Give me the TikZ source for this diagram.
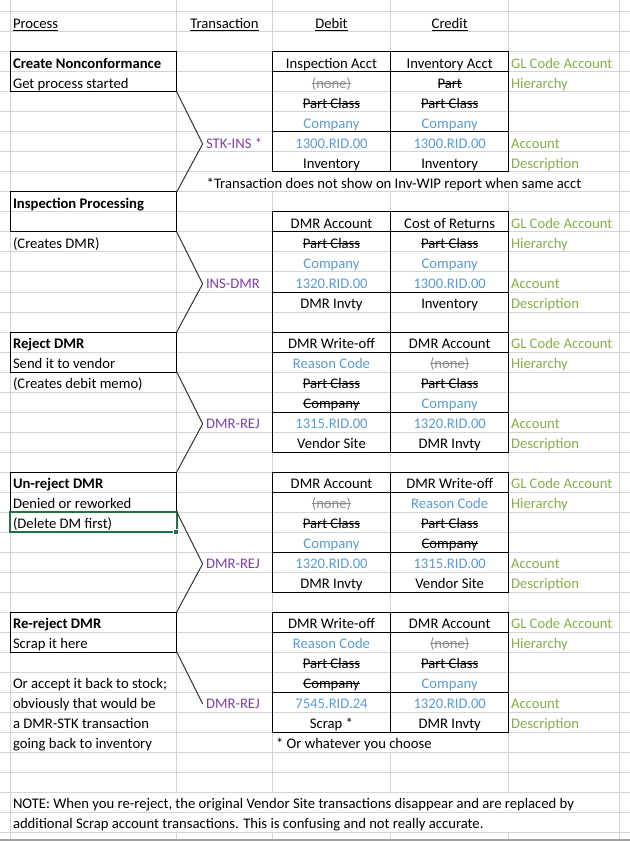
\documentclass[tikz,border=0pt]{standalone}
\usepackage{fontspec}
\setmainfont{Carlito}
\definecolor{gridc}{HTML}{D4D4D4}
\definecolor{glc}{HTML}{86B04A}
\definecolor{blc}{HTML}{5B9BD5}
\definecolor{puc}{HTML}{7F3FA8}
\definecolor{nonec}{HTML}{8C8C8C}
\definecolor{selc}{HTML}{217346}
\definecolor{chev}{HTML}{333333}
\definecolor{botc}{HTML}{A0A0A0}
\newlength\skl
\newcommand\strk[1]{\settowidth\skl{#1}\rlap{\rule[3.5pt]{\skl}{0.7pt}}#1}
\newcommand\uln[1]{\settowidth\skl{#1}\rlap{\rule[-2.2pt]{\skl}{0.7pt}}#1}
\newcommand\bluet[1]{\textcolor{blc}{#1}}
\newcommand\nonet{\textcolor{nonec}{\strk{(none)}}}
\newcommand\trw[4]{\node[cc] (#1d) at (331.5,#2) {#3}; \node[cc] (#1c) at (449.7,#2) {#4};}
\newcommand\glb[3]{\node[gl] (#1) at (511,#2) {#3};}
\newcommand\tbl[1]{\draw[blk] (272.3,#1) rectangle (508.7,#1+120) (390.7,#1) -- (390.7,#1+120) (272.3,#1+20) -- (508.7,#1+20) (272.3,#1+80) -- (508.7,#1+80);}
\begin{document}
\begin{tikzpicture}[x=0.75pt,y=-0.75pt,
  txt/.style={inner sep=0pt, outer sep=0pt, font=\fontsize{11pt}{13pt}\selectfont},
  lt/.style={txt, anchor=base west},
  cc/.style={txt, anchor=base},
  gl/.style={lt, text=glc},
  trn/.style={lt, text=puc, text height=7pt, text depth=0pt},
  gridl/.style={draw=gridc, line width=0.75pt},
  blk/.style={draw=black, line width=0.75pt},
  procbox/.style={blk, anchor=north west, inner sep=0pt, outer sep=0pt, minimum width=125.025pt, minimum height=30pt},
  chevron/.style={draw=chev, line width=0.75pt, line join=miter}]
\fill[white] (0,0) rectangle (630,841);
\useasboundingbox (0,0) rectangle (630,841);
% grid
\foreach \k in {0,...,41} \draw[gridl] (0,{12+20*\k}) -- (630,{12+20*\k});
\draw[gridl] (10,0) -- (10,841);
\draw[gridl] (619,0) -- (619,841);
\draw[gridl] (176.7,0) -- (176.7,792) (176.7,832) -- (176.7,841);
\draw[gridl] (272.3,0) -- (272.3,172) (272.3,192) -- (272.3,792) (272.3,832) -- (272.3,841);
\draw[gridl] (390.7,0) -- (390.7,172) (390.7,192) -- (390.7,732) (390.7,752) -- (390.7,792) (390.7,832) -- (390.7,841);
\draw[gridl] (508.7,0) -- (508.7,172) (508.7,192) -- (508.7,792) (508.7,832) -- (508.7,841);
\draw[draw=botc, line width=1.5pt] (0,840) -- (630,840);
% process boxes
\node[procbox] (p1) at (10,52) {};
\node[procbox] (p2) at (10,192) {};
\node[procbox] (p3) at (10,332) {};
\node[procbox] (p4) at (10,472) {};
\node[procbox] (p5) at (10,612) {};
\draw[selc, line width=1.5pt] (10,512) rectangle (176.7,532);
\draw[white, fill=selc, line width=0.5pt] (173.7,529.2) rectangle (178.7,534.2);
% tables
\tbl{52}
\tbl{212}
\tbl{332}
\tbl{472}
\tbl{612}
\begin{scope}[yshift=-0.75pt]
% headers
\node[lt] (hproc) at (13,27.5) {\uln{Process}};
\node[cc] (htran) at (224.5,27.5) {\uln{Transaction}};
\node[cc] (hdeb) at (331.5,27.5) {\uln{Debit}};
\node[cc] (hcre) at (449.7,27.5) {\uln{Credit}};
% process texts
\node[lt] (q1a) at (13,67.5) {\textbf{Create Nonconformance}};
\node[lt] (q1b) at (13,87.5) {Get process started};
\node[lt] (q2a) at (13,207.5) {\textbf{Inspection Processing}};
\node[lt] (q2b) at (13,247.5) {(Creates DMR)};
\node[lt] (q3a) at (13,347.5) {\textbf{Reject DMR}};
\node[lt] (q3b) at (13,367.5) {Send it to vendor};
\node[lt] (q3c) at (13,387.5) {(Creates debit memo)};
\node[lt] (q4a) at (13,487.5) {\textbf{Un-reject DMR}};
\node[lt] (q4b) at (13,507.5) {Denied or reworked};
\node[lt] (q4c) at (13,527.5) {(Delete DM first)};
\node[lt] (q5a) at (13,627.5) {\textbf{Re-reject DMR}};
\node[lt] (q5b) at (13,647.5) {Scrap it here};
\node[lt] (q5c) at (13,687.5) {Or accept it back to stock;};
\node[lt] (q5d) at (13,707.5) {obviously that would be};
\node[lt] (q5e) at (13,727.5) {a DMR-STK transaction};
\node[lt] (q5f) at (13,747.5) {going back to inventory};
% transactions
\node[trn] (x1) at (206,147.5) {STK-INS *};
\node[trn] (x2) at (206,287.5) {INS-DMR};
\node[trn] (x3) at (206,427.5) {DMR-REJ};
\node[trn] (x4) at (206,567.5) {DMR-REJ};
\node[trn] (x5) at (206,707.5) {DMR-REJ};
% table 1
\trw{a3}{67.5}{Inspection Acct}{Inventory Acct}
\trw{a4}{87.5}{\nonet}{\strk{Part}}
\trw{a5}{107.5}{\strk{Part Class}}{\strk{Part Class}}
\trw{a6}{127.5}{\bluet{Company}}{\bluet{Company}}
\trw{a7}{147.5}{\bluet{1300.RID.00}}{\bluet{1300.RID.00}}
\trw{a8}{167.5}{Inventory}{Inventory}
\glb{g1a}{67.5}{GL Code Account}
\glb{g1b}{87.5}{Hierarchy}
\glb{g1c}{147.5}{Account}
\glb{g1d}{167.5}{Description}
\node[lt] (fn1) at (206.7,187.5) {*Transaction does not show on Inv-WIP report when same acct};
% table 2
\trw{b1}{227.5}{DMR Account}{Cost of Returns}
\trw{b2}{247.5}{\strk{Part Class}}{\strk{Part Class}}
\trw{b3}{267.5}{\bluet{Company}}{\bluet{Company}}
\trw{b4}{287.5}{\bluet{1320.RID.00}}{\bluet{1300.RID.00}}
\trw{b5}{307.5}{DMR Invty}{Inventory}
\glb{g2a}{227.5}{GL Code Account}
\glb{g2b}{247.5}{Hierarchy}
\glb{g2c}{287.5}{Account}
\glb{g2d}{307.5}{Description}
% table 3
\trw{c1}{347.5}{DMR Write-off}{DMR Account}
\trw{c2}{367.5}{\bluet{Reason Code}}{\nonet}
\trw{c3}{387.5}{\strk{Part Class}}{\strk{Part Class}}
\trw{c4}{407.5}{\strk{Company}}{\bluet{Company}}
\trw{c5}{427.5}{\bluet{1315.RID.00}}{\bluet{1320.RID.00}}
\trw{c6}{447.5}{Vendor Site}{DMR Invty}
\glb{g3a}{347.5}{GL Code Account}
\glb{g3b}{367.5}{Hierarchy}
\glb{g3c}{427.5}{Account}
\glb{g3d}{447.5}{Description}
% table 4
\trw{d1}{487.5}{DMR Account}{DMR Write-off}
\trw{d2}{507.5}{\nonet}{\bluet{Reason Code}}
\trw{d3}{527.5}{\strk{Part Class}}{\strk{Part Class}}
\trw{d4}{547.5}{\bluet{Company}}{\strk{Company}}
\trw{d5}{567.5}{\bluet{1320.RID.00}}{\bluet{1315.RID.00}}
\trw{d6}{587.5}{DMR Invty}{Vendor Site}
\glb{g4a}{487.5}{GL Code Account}
\glb{g4b}{507.5}{Hierarchy}
\glb{g4c}{567.5}{Account}
\glb{g4d}{587.5}{Description}
% table 5
\trw{e1}{627.5}{DMR Write-off}{DMR Account}
\trw{e2}{647.5}{\bluet{Reason Code}}{\nonet}
\trw{e3}{667.5}{\strk{Part Class}}{\strk{Part Class}}
\trw{e4}{687.5}{\strk{Company}}{\bluet{Company}}
\trw{e5}{707.5}{\bluet{7545.RID.24}}{\bluet{1320.RID.00}}
\trw{e6}{727.5}{Scrap *}{DMR Invty}
\glb{g5a}{627.5}{GL Code Account}
\glb{g5b}{647.5}{Hierarchy}
\glb{g5c}{707.5}{Account}
\glb{g5d}{727.5}{Description}
\node[lt] (fn2) at (276,747.5) {* Or whatever you choose};
% note
\node[lt] (n1) at (13,807.5) {NOTE: When you re-reject, the original Vendor Site transactions disappear and are replaced by};
\node[lt] (n2) at (13,827.5) {additional Scrap account transactions. This is confusing and not really accurate.};
\end{scope}
% connectors
\draw[chevron] (p1.south east) -- ([xshift=-2.5pt]x1.west) -- (p2.north east);
\draw[chevron] (p2.south east) -- ([xshift=-2.5pt]x2.west) -- (p3.north east);
\draw[chevron] (p3.south east) -- ([xshift=-2.5pt]x3.west) -- (p4.north east);
\draw[chevron] (p4.south east) -- ([xshift=-2.5pt]x4.west) -- (p5.north east);
\draw[chevron] (p5.south east) -- ([xshift=-2.5pt]x5.west);
\end{tikzpicture}
\end{document}
